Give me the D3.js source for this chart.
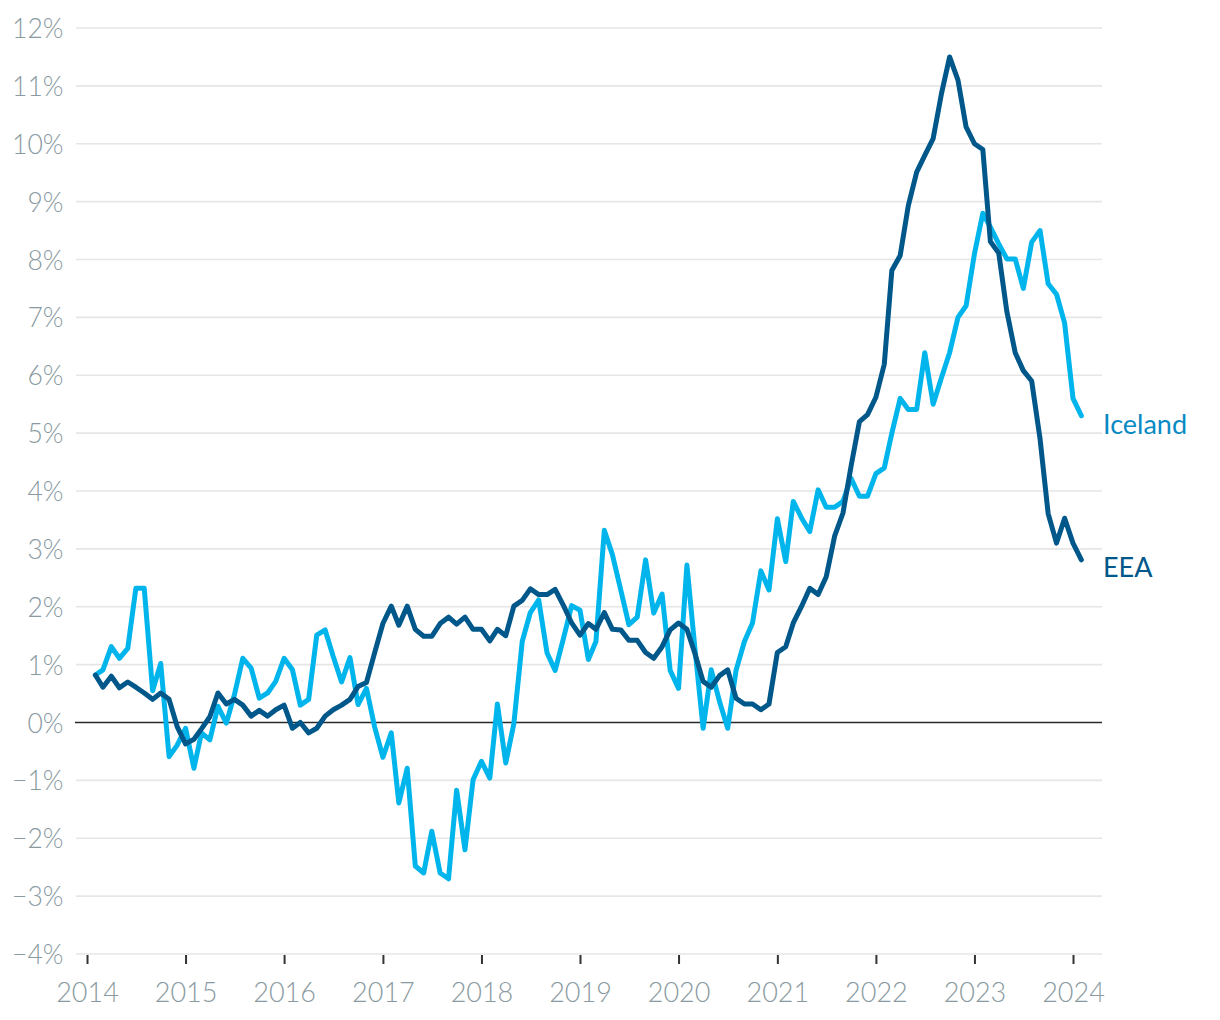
<!DOCTYPE html>
<html>
<head>
<meta charset="utf-8">
<script src="https://cdn.jsdelivr.net/npm/d3@7"></script>
<style>
  html, body { margin: 0; padding: 0; background: #fff; }
  svg { display: block; font-family: Lato, "Open Sans", sans-serif; }
</style>
</head>
<body>
<svg id="chart" width="1220" height="1020"></svg>
<script>
// Monthly observations, Feb 2014 – Feb 2024 (inflation, %)
const startMonth = "2014-02";
const endMonth = "2024-02";

const iceland = [
  0.82, 0.91, 1.31, 1.11, 1.28, 2.32, 2.32, 0.55, 1.02, -0.59, -0.39,
  -0.10, -0.79, -0.18, -0.30, 0.28, -0.01, 0.48, 1.11, 0.94, 0.42, 0.51, 0.71,
  1.11, 0.91, 0.30, 0.40, 1.51, 1.60, 1.14, 0.70, 1.12, 0.31, 0.59, -0.07,
  -0.60, -0.18, -1.39, -0.79, -2.48, -2.60, -1.88, -2.60, -2.70, -1.17, -2.20, -0.99,
  -0.67, -0.96, 0.32, -0.70, -0.02, 1.40, 1.90, 2.12, 1.20, 0.90, 1.46, 2.02,
  1.94, 1.09, 1.40, 3.32, 2.90, 2.29, 1.69, 1.82, 2.81, 1.89, 2.22, 0.90,
  0.59, 2.72, 1.31, -0.10, 0.91, 0.36, -0.10, 0.90, 1.40, 1.72, 2.62, 2.29,
  3.52, 2.78, 3.82, 3.53, 3.30, 4.02, 3.72, 3.72, 3.82, 4.22, 3.91, 3.91,
  4.30, 4.40, 5.00, 5.60, 5.41, 5.41, 6.39, 5.50, 5.96, 6.39, 7.00, 7.20,
  8.10, 8.80, 8.56, 8.27, 8.01, 8.01, 7.50, 8.30, 8.50, 7.58, 7.40, 6.90,
  5.60, 5.30
];

const eea = [
  0.82, 0.61, 0.80, 0.60, 0.70, 0.61, 0.51, 0.40, 0.51, 0.40, -0.07,
  -0.37, -0.29, -0.11, 0.10, 0.51, 0.32, 0.40, 0.30, 0.11, 0.21, 0.11, 0.22,
  0.30, -0.10, 0.00, -0.18, -0.10, 0.11, 0.22, 0.30, 0.40, 0.62, 0.69, 1.20,
  1.71, 2.01, 1.68, 2.01, 1.61, 1.49, 1.49, 1.71, 1.82, 1.70, 1.82, 1.61,
  1.61, 1.41, 1.61, 1.50, 2.01, 2.11, 2.31, 2.21, 2.21, 2.30, 2.02, 1.72,
  1.51, 1.71, 1.61, 1.90, 1.61, 1.60, 1.42, 1.42, 1.21, 1.11, 1.31, 1.60,
  1.72, 1.61, 1.20, 0.71, 0.61, 0.81, 0.91, 0.42, 0.32, 0.32, 0.22, 0.32,
  1.21, 1.31, 1.72, 2.01, 2.32, 2.21, 2.52, 3.22, 3.62, 4.43, 5.20, 5.32,
  5.62, 6.19, 7.81, 8.07, 8.93, 9.51, 9.80, 10.09, 10.87, 11.50, 11.10, 10.29,
  10.00, 9.90, 8.31, 8.11, 7.10, 6.39, 6.08, 5.90, 4.90, 3.61, 3.10, 3.53,
  3.10, 2.81
];

const yearTicks = [2014, 2015, 2016, 2017, 2018, 2019, 2020, 2021, 2022, 2023, 2024];
const yTicks = [-4, -3, -2, -1, 0, 1, 2, 3, 4, 5, 6, 7, 8, 9, 10, 11, 12];
const seriesNames = ["Iceland", "EEA"];

// ---- drawing ----
const parseMonth = d3.timeParse("%Y-%m");
const months = d3.timeMonth.range(parseMonth(startMonth), d3.timeMonth.offset(parseMonth(endMonth), 1));

const svg = d3.select("#chart");
const x = d3.scaleTime()
  .domain([new Date(2014, 0, 1), new Date(2024, 0, 1)])
  .range([87, 1073]);
const y = d3.scaleLinear().domain([-4, 12]).range([954, 28]);

const gridLeft = 76, gridRight = 1102;
const labelColor = "#8a9aa1";

// gridlines
svg.append("g").selectAll("line").data(yTicks.filter(d => d !== 0)).join("line")
  .attr("x1", gridLeft).attr("x2", gridRight)
  .attr("y1", d => y(d)).attr("y2", d => y(d))
  .attr("stroke", "#e6e6e6").attr("stroke-width", 1.6);

// y axis labels
const yAxis = d3.axisLeft(y).tickValues(yTicks).tickSize(0).tickPadding(0)
  .tickFormat(d => (d < 0 ? "\u2212" + Math.abs(d) : d) + "%");
const yg = svg.append("g").attr("transform", "translate(63.5,0)").call(yAxis);
yg.select(".domain").remove();
yg.selectAll("text").attr("fill", labelColor).attr("font-size", 26.5)
  .attr("font-weight", 300)
  .attr("font-family", "Lato, sans-serif").attr("dy", "0.36em");

// x axis
const xAxis = d3.axisBottom(x)
  .tickValues(yearTicks.map(yr => new Date(yr, 0, 1)))
  .tickSize(9).tickPadding(19)
  .tickFormat(d3.timeFormat("%Y"));
const xg = svg.append("g").attr("transform", "translate(0,955)").call(xAxis);
xg.select(".domain").remove();
xg.selectAll(".tick line").attr("stroke", "#333").attr("stroke-width", 2);
xg.selectAll("text").attr("fill", labelColor).attr("font-size", 27)
  .attr("font-weight", 300)
  .attr("font-family", "Lato, sans-serif");

// zero line
svg.append("line")
  .attr("x1", 75).attr("x2", gridRight)
  .attr("y1", y(0)).attr("y2", y(0))
  .attr("stroke", "#2b2b2b").attr("stroke-width", 1.6);

const line = d3.line().x((d, i) => x(months[i])).y(d => y(d));

const colors = { Iceland: "#00b5ec", EEA: "#00578a" };
const textColors = { Iceland: "#0a8ac3", EEA: "#00578a" };
const seriesData = { Iceland: iceland, EEA: eea };

seriesNames.forEach(name => {
  svg.append("path")
    .datum(seriesData[name])
    .attr("fill", "none")
    .attr("stroke", colors[name])
    .attr("stroke-width", 5)
    .attr("stroke-linejoin", "round")
    .attr("stroke-linecap", "round")
    .attr("d", line);
});

// end labels
svg.append("text").attr("x", 1103).attr("y", 434)
  .attr("fill", textColors.Iceland).attr("font-size", 27)
  .attr("font-family", "Lato, sans-serif").text("Iceland");
svg.append("text").attr("x", 1103).attr("y", 577)
  .attr("fill", textColors.EEA).attr("font-size", 27)
  .attr("font-family", "Lato, sans-serif").text("EEA");
</script>
</body>
</html>
